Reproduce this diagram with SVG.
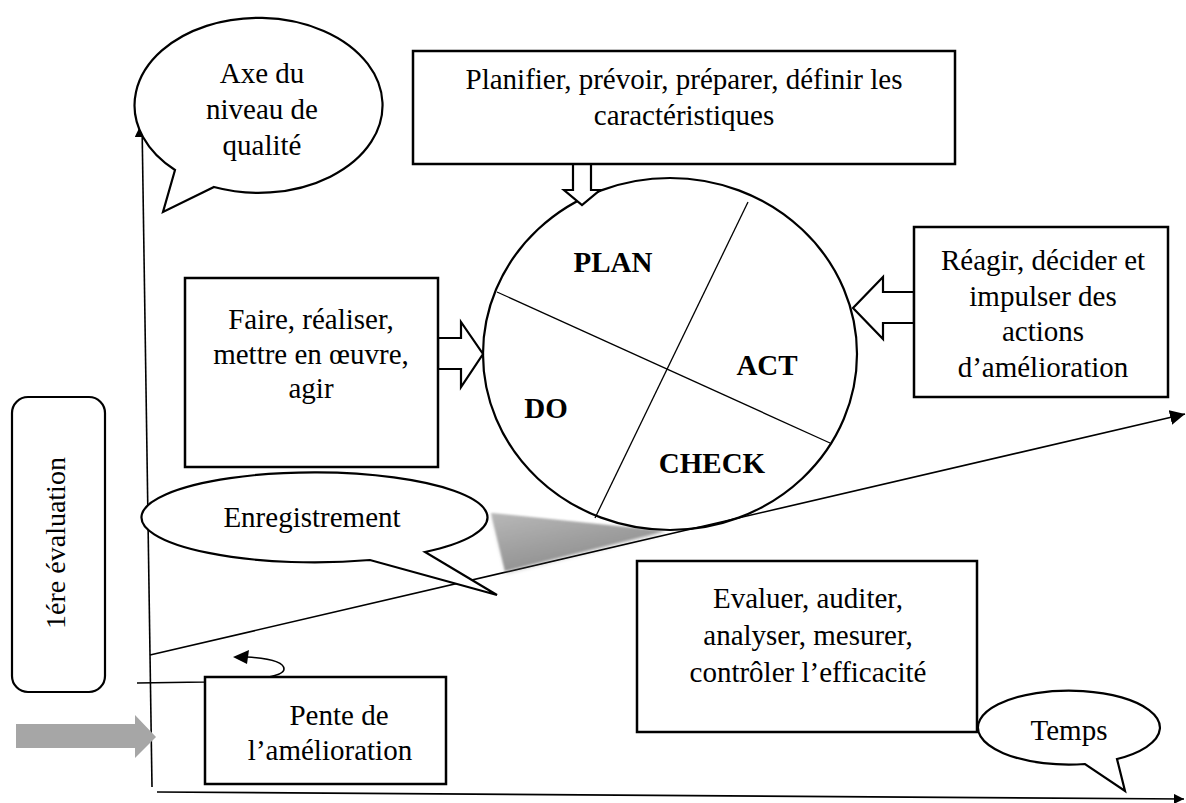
<svg xmlns="http://www.w3.org/2000/svg" width="1186" height="803" viewBox="0 0 1186 803">
  <style>
    .box { fill: #fff; stroke: #000; stroke-width: 2.5; }
    .bub { fill: #fff; stroke: #000; stroke-width: 2.2; stroke-linejoin: miter; }
    .t { font-family: "Liberation Serif", "Times New Roman", serif; font-size: 29px; fill: #000; text-anchor: middle; }
    .b { font-family: "Liberation Serif", "Times New Roman", serif; font-size: 29px; font-weight: bold; fill: #000; text-anchor: middle; }
    .ax { fill: none; stroke: #000; stroke-width: 1.6; }
    .blk { fill: #fff; stroke: #000; stroke-width: 2.2; stroke-linejoin: miter; }
    .div { stroke: #000; stroke-width: 1.3; }
  </style>
  <defs>
    <marker id="ah" markerWidth="16" markerHeight="16" refX="15" refY="7.5" orient="auto" markerUnits="userSpaceOnUse">
      <path d="M0,0 L15,7.5 L0,15 Z" fill="#000"/>
    </marker>
    <marker id="ahs" markerWidth="12" markerHeight="12" refX="10" refY="5" orient="auto" markerUnits="userSpaceOnUse">
      <path d="M0,0 L10,5 L0,10 Z" fill="#000"/>
    </marker>
    <linearGradient id="wg" x1="0" y1="0" x2="0.6" y2="1">
      <stop offset="0" stop-color="#b8b8b8"/>
      <stop offset="1" stop-color="#8a8a8a"/>
    </linearGradient>
    <filter id="soft" x="-10%" y="-20%" width="130%" height="150%">
      <feGaussianBlur in="SourceAlpha" stdDeviation="2" result="bl"/>
      <feOffset in="bl" dx="1" dy="2" result="off"/>
      <feComponentTransfer in="off" result="sh"><feFuncA type="linear" slope="0.25"/></feComponentTransfer>
      <feGaussianBlur in="SourceGraphic" stdDeviation="0.8" result="src"/>
      <feMerge><feMergeNode in="sh"/><feMergeNode in="src"/></feMerge>
    </filter>
  </defs>

  <rect width="1186" height="803" fill="#fff"/>

  <g id="connectors">
    <line class="ax" x1="152" y1="787" x2="142" y2="122" marker-end="url(#ah)"/>
    <line class="ax" x1="157" y1="792" x2="1184" y2="799" marker-end="url(#ahs)"/>
    <line class="ax" x1="150" y1="655" x2="1185" y2="414" marker-end="url(#ah)"/>
    <path class="ax" d="M137,683 L205,682 C250,680 284,678 284,669 C284,661 264,658 247,657"/>
    <polygon points="233,657 249,650 247,664" fill="#000"/>
    <polygon points="16,724 135,724 135,715 156,737 135,758 135,748 16,748" fill="#a6a6a6"/>
  </g>

  <g id="wedge">
    <polygon points="491,513 665,531 505,571" fill="url(#wg)" filter="url(#soft)"/>
  </g>

  <g id="cycle">
    <ellipse cx="670" cy="354" rx="187" ry="176" fill="none" stroke="#000" stroke-width="2.2"/>
    <line class="div" x1="497" y1="292" x2="830" y2="443"/>
    <line class="div" x1="748" y1="202" x2="595" y2="518"/>
    <text class="b" x="613" y="272">PLAN</text>
    <text class="b" x="767" y="375">ACT</text>
    <text class="b" x="546" y="418">DO</text>
    <text class="b" x="712" y="473">CHECK</text>
  </g>

  <g id="arrows-block">
    <polygon class="blk" points="573,164 591,164 591,190 600,190 582,205 564,190 573,190"/>
    <polygon class="blk" points="438,338 461,338 461,322 483,354 461,387 461,369 438,369"/>
    <polygon class="blk" points="914,292 883,292 883,277 853,308 883,339 883,323 914,323"/>
  </g>

  <g id="callout-axe">
    <path class="bub" d="M214,187 A124,87.5 0 1 0 175,170 L163,212 Z"/>
    <text class="t" x="262" y="83">Axe du</text>
    <text class="t" x="262" y="119">niveau de</text>
    <text class="t" x="262" y="155">qualité</text>
  </g>

  <g id="box-plan">
    <rect class="box" x="413" y="51" width="542" height="113"/>
    <text class="t" x="684" y="89">Planifier, prévoir, préparer, définir les</text>
    <text class="t" x="684" y="125">caractéristiques</text>
  </g>

  <g id="box-do">
    <rect class="box" x="185" y="278" width="253" height="189"/>
    <text class="t" x="311" y="329">Faire, réaliser,</text>
    <text class="t" x="311" y="364">mettre en œuvre,</text>
    <text class="t" x="311" y="398">agir</text>
  </g>

  <g id="box-act">
    <rect class="box" x="914" y="227" width="254" height="170"/>
    <text class="t" x="1043" y="270">Réagir, décider et</text>
    <text class="t" x="1043" y="306">impulser des</text>
    <text class="t" x="1043" y="341">actions</text>
    <text class="t" x="1043" y="377">d’amélioration</text>
  </g>

  <g id="label-eval">
    <rect x="12" y="397" width="93" height="295" rx="16" ry="16" fill="#fff" stroke="#000" stroke-width="2.2"/>
    <text class="t" style="font-size:28px" transform="translate(65,543) rotate(-90)" x="0" y="0">1ére évaluation</text>
  </g>

  <g id="callout-enreg">
    <path class="bub" d="M370,560 A173,45 0 1 1 425,552 L497,595 Z"/>
    <text class="t" x="312" y="527">Enregistrement</text>
  </g>

  <g id="box-check">
    <rect class="box" x="637" y="561" width="340" height="171"/>
    <text class="t" x="808" y="608">Evaluer, auditer,</text>
    <text class="t" x="808" y="645">analyser, mesurer,</text>
    <text class="t" x="808" y="682">contrôler l’efficacité</text>
  </g>

  <g id="box-pente">
    <rect class="box" x="205" y="677" width="241" height="107"/>
    <text class="t" x="339" y="725">Pente de</text>
    <text class="t" x="330" y="760">l’amélioration</text>
  </g>

  <g id="callout-temps">
    <path class="bub" d="M1085,764 A91,37 0 1 1 1117,759 L1125,791 Z"/>
    <text class="t" x="1069" y="740">Temps</text>
  </g>
</svg>
